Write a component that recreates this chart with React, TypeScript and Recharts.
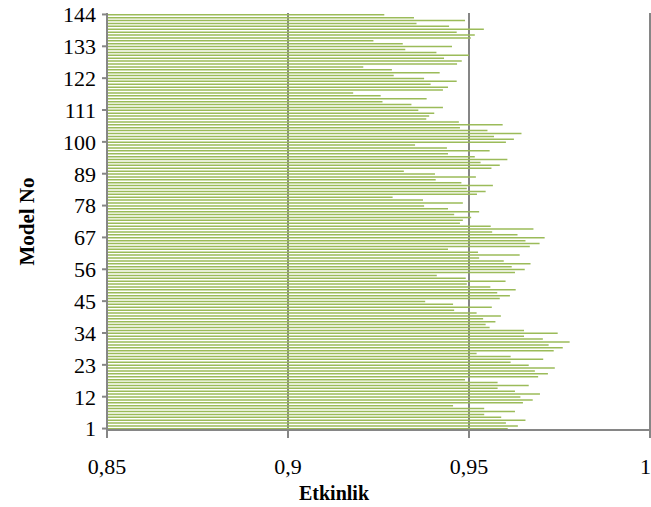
import React from 'react';
import { BarChart, Bar, XAxis, YAxis, CartesianGrid } from 'recharts';

// Model numbers 1..144 (categories on the vertical axis)
const modelNumbers: number[] = Array.from({ length: 144 }, (_, i) => i + 1);

// Efficiency ("Etkinlik") of each model, in model order 1..144
const efficiency: number[] = [
  0.9607, 0.9635, 0.9602, 0.9656, 0.9589, 0.9542, 0.9627, 0.9542, 0.9456, 0.9649,
  0.9676, 0.9642, 0.9696, 0.9627, 0.9579, 0.9665, 0.9579, 0.9489, 0.9691, 0.9718,
  0.9682, 0.9737, 0.9665, 0.9615, 0.9705, 0.9615, 0.9521, 0.9734, 0.9759, 0.9720,
  0.9778, 0.9704, 0.9652, 0.9745, 0.9652, 0.9557, 0.9546, 0.9573, 0.9539, 0.9588,
  0.9521, 0.9459, 0.9563, 0.9456, 0.9379, 0.9585, 0.9613, 0.9578, 0.9629, 0.9559,
  0.9494, 0.9601, 0.9491, 0.9411, 0.9627, 0.9654, 0.9618, 0.9670, 0.9596, 0.9528,
  0.9640, 0.9525, 0.9442, 0.9668, 0.9695, 0.9656, 0.9709, 0.9634, 0.9564, 0.9678,
  0.9560, 0.9475, 0.9483, 0.9506, 0.9459, 0.9528, 0.9442, 0.9376, 0.9483, 0.9373,
  0.9289, 0.9522, 0.9546, 0.9494, 0.9566, 0.9479, 0.9408, 0.9519, 0.9406, 0.9320,
  0.9562, 0.9585, 0.9532, 0.9606, 0.9516, 0.9442, 0.9557, 0.9439, 0.9351, 0.9602,
  0.9624, 0.9569, 0.9645, 0.9551, 0.9475, 0.9593, 0.9472, 0.9382, 0.9390, 0.9404,
  0.9360, 0.9428, 0.9341, 0.9261, 0.9383, 0.9256, 0.9180, 0.9428, 0.9442, 0.9394,
  0.9466, 0.9376, 0.9292, 0.9419, 0.9287, 0.9208, 0.9467, 0.9480, 0.9431, 0.9500,
  0.9410, 0.9324, 0.9453, 0.9317, 0.9236, 0.9505, 0.9516, 0.9466, 0.9541, 0.9445,
  0.9355, 0.9489, 0.9348, 0.9266,
];

// Value-axis ticks
const xTicks: number[] = [0.85, 0.9, 0.95, 1];

const data = modelNumbers.map((m, i) => ({ model: m, etkinlik: efficiency[i] }));

const FONT = '"Liberation Serif", "Times New Roman", serif';
const AXIS_GRAY = '#868686';
const BAR_GREEN = '#9BBB59';

const formatComma = (v: number) => String(v).replace('.', ',');

const XTitle = (props: any) => {
  const vb = props.viewBox || {};
  return (
    <text
      x={334}
      y={vb.y + vb.height - 7}
      textAnchor="middle"
      fontFamily={FONT}
      fontWeight="bold"
      fontSize={20}
      fill="#000"
    >
      Etkinlik
    </text>
  );
};

const YTitle = (props: any) => {
  const vb = props.viewBox || {};
  const cy = vb.y + vb.height / 2;
  return (
    <text
      x={27}
      y={cy}
      transform={`rotate(-90, 27, ${cy})`}
      textAnchor="middle"
      dominantBaseline="central"
      fontFamily={FONT}
      fontWeight="bold"
      fontSize={21}
      fill="#000"
    >
      Model No
    </text>
  );
};

export default function App() {
  return (
    <div style={{ position: 'absolute', left: 0, top: 0, width: 651, height: 507, background: '#fff' }}>
      <BarChart
        width={651}
        height={507}
        data={data}
        layout="vertical"
        margin={{ top: 13, right: 1, bottom: 0, left: 0 }}
        barSize={1.5}
      >
        <CartesianGrid horizontal={false} vertical stroke={AXIS_GRAY} strokeWidth={2} />
        <XAxis
          type="number"
          dataKey="etkinlik"
          domain={[0.85, 1]}
          ticks={xTicks}
          tickFormatter={formatComma}
          height={77}
          axisLine={{ stroke: AXIS_GRAY, strokeWidth: 2 }}
          tickLine={{ stroke: AXIS_GRAY, strokeWidth: 2 }}
          tickSize={8}
          tickMargin={20}
          tick={{ fontFamily: FONT, fontSize: 22, fill: '#000' }}
          label={<XTitle />}
        />
        <YAxis
          type="category"
          dataKey="model"
          reversed
          interval={10}
          width={107}
          axisLine={{ stroke: AXIS_GRAY, strokeWidth: 2 }}
          tickLine={{ stroke: AXIS_GRAY, strokeWidth: 2 }}
          tickSize={5}
          tickMargin={6}
          tick={{ fontFamily: FONT, fontSize: 22, fill: '#000' }}
          label={<YTitle />}
        />
        <Bar dataKey="etkinlik" fill={BAR_GREEN} isAnimationActive={false} />
      </BarChart>
    </div>
  );
}
